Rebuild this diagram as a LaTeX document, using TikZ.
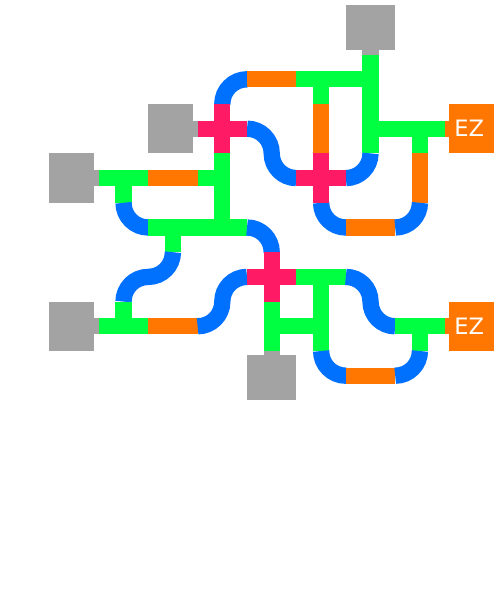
\documentclass[tikz,border=0pt]{standalone}
\usepackage{fontspec}
\setmainfont{DejaVu Sans}
\definecolor{PipeGreen}{RGB}{0,255,64}
\definecolor{PipeOrange}{RGB}{255,119,0}
\definecolor{PipeBlue}{RGB}{0,112,255}
\definecolor{PipePink}{RGB}{255,26,102}
\definecolor{BlockGray}{RGB}{163,163,163}

\begin{document}
\begin{tikzpicture}[
    x=1cm,y=-1cm,
    pipe/.style={line width=0.33cm},
    greenpipe/.style={pipe,draw=PipeGreen},
    orangepipe/.style={pipe,draw=PipeOrange},
    pinkpipe/.style={pipe,draw=PipePink},
    graypipe/.style={pipe,draw=BlockGray},
    bluecurve/.style={pipe,draw=PipeBlue},
    bluepipe/.style={bluecurve,rounded corners=0.5cm},
    block/.style={anchor=north west,inner sep=0pt,outer sep=0pt},
    grayblock/.style={block,fill=BlockGray},
    ezblock/.style={block,fill=PipeOrange,text=white,font=\fontsize{13}{15}\selectfont,minimum width=0.91cm,minimum height=1cm}
]
\useasboundingbox (0,-0.105) rectangle (10.02,12.02);

% Half-tile grid
\foreach \c in {0,...,20} {
    \foreach \r in {0,...,16} {
        \coordinate (g\c-\r) at (\c/2,\r/2);
    }
}

% Blocks
\node[grayblock,minimum width=1cm,minimum height=0.9cm] (srctop) at (g14-0) {};
\node[grayblock,minimum width=0.9cm,minimum height=1cm] (srcmid) at (g6-4) {};
\node[grayblock,minimum width=0.9cm,minimum height=1cm] (srcupper) at (g2-6) {};
\node[grayblock,minimum width=0.9cm,minimum height=1cm] (srclower) at (g2-12) {};
\node[grayblock,minimum width=1cm,minimum height=0.91cm,anchor=south west] (srcbottom) at (g10-16) {};
\node[ezblock,anchor=north east] (ezupper) at (g20-4) {EZ\kern0.09cm};
\node[ezblock,anchor=north east] (ezlower) at (g20-12) {EZ\kern0.09cm};

% Stubs
\draw[graypipe] (srctop.south) -- (g15-2);
\draw[graypipe] (srcmid.east) -- (g8-5);
\draw[graypipe] (srcupper.east) -- (g4-7);
\draw[graypipe] (srclower.east) -- (g4-13);
\draw[graypipe] (srcbottom.north) -- (g11-14);
\draw[orangepipe] (ezupper.west) -- (g18-5);
\draw[orangepipe] (ezlower.west) -- (g18-13);

% Upper right
\draw[bluepipe] (g10-3) -| (g9-4);
\draw[orangepipe] (g10-3) -- (g12-3);
\draw[greenpipe] (g12-3) -- (g15-3);
\draw[greenpipe] (g13-3) -- (g13-4);
\draw[greenpipe] (g15-2) -- (g15-6);
\draw[orangepipe] (g13-4) -- (g13-6);
\draw[greenpipe] (g15-5) -- (g18-5);
\draw[greenpipe] (g17-5) -- (g17-6);
\draw[orangepipe] (g17-6) -- (g17-8);
\draw[bluecurve] (g10-5) to[out=0,in=90] (g11-6) to[out=-90,in=180] (g12-7);
\draw[bluepipe] (g14-7) -| (g15-6);
\draw[bluepipe] (g13-8) |- (g14-9);
\draw[orangepipe] (g14-9) -- (g16-9);
\draw[bluepipe] (g16-9) -| (g17-8);

% Upper left
\draw[greenpipe] (g4-7) -- (g6-7);
\draw[greenpipe] (g5-7) -- (g5-8);
\draw[orangepipe] (g6-7) -- (g8-7);
\draw[greenpipe] (g8-7) -- (g9-7);
\draw[greenpipe] (g9-6) -- (g9-9);
\draw[bluepipe] (g5-8) |- (g6-9);
\draw[greenpipe] (g6-9) -- (g10-9);
\draw[greenpipe] (g7-9) -- (g7-10);
\draw[bluepipe] (g10-9) -| (g11-10);

% Lower left
\draw[bluecurve] (g7-10) to[out=-90,in=0] (g6-11) to[out=180,in=90] (g5-12);
\draw[greenpipe] (g5-12) -- (g5-13);
\draw[greenpipe] (g4-13) -- (g6-13);
\draw[orangepipe] (g6-13) -- (g8-13);
\draw[bluecurve] (g8-13) to[out=0,in=-90] (g9-12) to[out=90,in=180] (g10-11);

% Lower right
\draw[greenpipe] (g11-12) -- (g11-14);
\draw[greenpipe] (g11-13) -- (g13-13);
\draw[greenpipe] (g12-11) -- (g14-11);
\draw[greenpipe] (g13-11) -- (g13-14);
\draw[bluecurve] (g14-11) to[out=0,in=90] (g15-12) to[out=-90,in=180] (g16-13);
\draw[greenpipe] (g16-13) -- (g18-13);
\draw[greenpipe] (g17-13) -- (g17-14);
\draw[bluepipe] (g13-14) |- (g14-15);
\draw[orangepipe] (g14-15) -- (g16-15);
\draw[bluepipe] (g16-15) -| (g17-14);

% Crossings
\draw[pinkpipe] (g8-5) -- (g10-5);
\draw[pinkpipe] (g9-4) -- (g9-6);
\draw[pinkpipe] (g12-7) -- (g14-7);
\draw[pinkpipe] (g13-6) -- (g13-8);
\draw[pinkpipe] (g10-11) -- (g12-11);
\draw[pinkpipe] (g11-10) -- (g11-12);

\end{tikzpicture}
\end{document}
